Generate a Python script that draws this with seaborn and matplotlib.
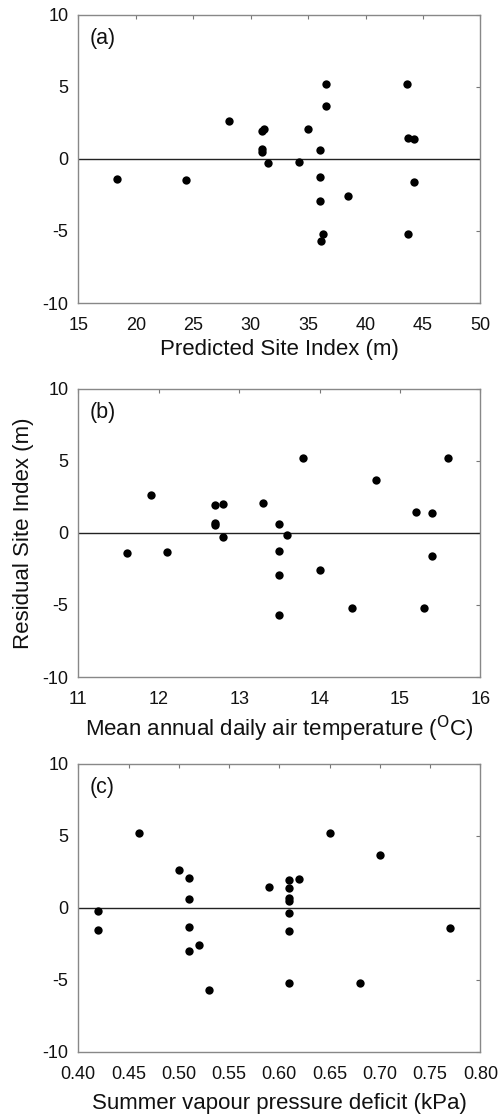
import matplotlib
matplotlib.use('Agg')
import matplotlib.pyplot as plt
import seaborn as sns
import pandas as pd

# Panel (a): predicted site index vs residual
pred_si = [18.4, 24.4, 28.1, 31.0, 31.2, 31.0, 31.0, 31.5, 34.2, 35.0, 36.0, 36.0,
           36.0, 36.1, 36.3, 36.6, 36.6, 38.5, 43.6, 43.7, 44.2, 44.2, 43.7]
resid_a = [-1.4, -1.45, 2.6, 1.95, 2.05, 0.7, 0.5, -0.3, -0.2, 2.05, 0.6, -1.25,
           -2.95, -5.7, -5.2, 5.2, 3.65, -2.6, 5.2, 1.45, 1.4, -1.6, -5.2]

# Panel (b): mean annual daily air temperature vs residual
temp = [11.6, 11.9, 12.1, 12.7, 12.8, 12.7, 12.7, 12.8, 13.3, 13.5, 13.6, 13.5,
        13.5, 13.5, 13.8, 14.0, 14.4, 14.7, 15.2, 15.4, 15.4, 15.3, 15.6]
resid_b = [-1.4, 2.6, -1.35, 1.95, 2.0, 0.7, 0.55, -0.3, 2.05, 0.6, -0.15, -1.25,
           -2.95, -5.7, 5.2, -2.55, -5.2, 3.65, 1.45, 1.35, -1.6, -5.2, 5.2]

# Panel (c): summer vapour pressure deficit vs residual
vpd = [0.42, 0.42, 0.46, 0.50, 0.51, 0.51, 0.51, 0.51, 0.52, 0.53, 0.59, 0.61,
       0.62, 0.61, 0.61, 0.61, 0.61, 0.61, 0.61, 0.65, 0.68, 0.70, 0.77]
resid_c = [-0.2, -1.5, 5.2, 2.6, 2.05, 0.6, -1.3, -3.0, -2.6, -5.7, 1.45, 1.95,
           2.0, 1.35, 0.7, 0.5, -0.35, -1.6, -5.2, 5.2, -5.2, 3.65, -1.4]

sns.set_style('white')
plt.rcParams['font.family'] = ['Liberation Sans', 'DejaVu Sans']
plt.rcParams['axes.unicode_minus'] = False

fig = plt.figure(figsize=(5.02, 11.17), dpi=100)

panels = [
    ('(a)', pred_si, resid_a, (15, 50), range(15, 51, 5), None,
     'Predicted Site Index (m)', [0.156, 0.7287, 0.801, 0.258], 4),
    ('(b)', temp, resid_b, (11, 16), range(11, 17), None,
     r'Mean annual daily air temperature ($^{\mathrm{O}}$C)', [0.156, 0.3939, 0.801, 0.258], 4),
    ('(c)', vpd, resid_c, (0.40, 0.80), [0.40 + 0.05 * i for i in range(9)], '%.2f',
     'Summer vapour pressure deficit (kPa)', [0.156, 0.0582, 0.801, 0.258], 7),
]

for tag, xs, ys, xlim, xticks, fmt, xlabel, rect, lpad in panels:
    ax = fig.add_axes(rect)
    df = pd.DataFrame({'x': xs, 'y': ys})
    ax.axhline(0, color='#222222', lw=1.0, zorder=1)
    sns.scatterplot(data=df, x='x', y='y', ax=ax, color='black', s=36,
                    linewidth=0, zorder=3)
    ax.set_xlim(*xlim)
    ax.set_ylim(-10, 10)
    ax.set_xticks(list(xticks))
    if fmt:
        ax.set_xticklabels([fmt % t for t in xticks])
    ax.set_yticks([-10, -5, 0, 5, 10])
    ax.tick_params(direction='in', length=3, width=0.8, color='#777777',
                   top=True, right=True, labelsize=13, pad=7, labelcolor='#111111')
    ax.tick_params(axis='x', pad=10)
    for sp in ax.spines.values():
        sp.set_color('#888888')
        sp.set_linewidth(1.0)
    ax.set_xlabel(xlabel, fontsize=16, labelpad=lpad, color='#111111')
    ax.set_ylabel('')
    ax.text(0.027, 0.955, tag, transform=ax.transAxes, fontsize=15.5,
            va='top', ha='left', color='#111111')
    if tag == '(b)':
        ax.set_ylabel('Residual Site Index (m)', fontsize=16, labelpad=6,
                      color='#111111')

fig.savefig('out.png', dpi=100)
